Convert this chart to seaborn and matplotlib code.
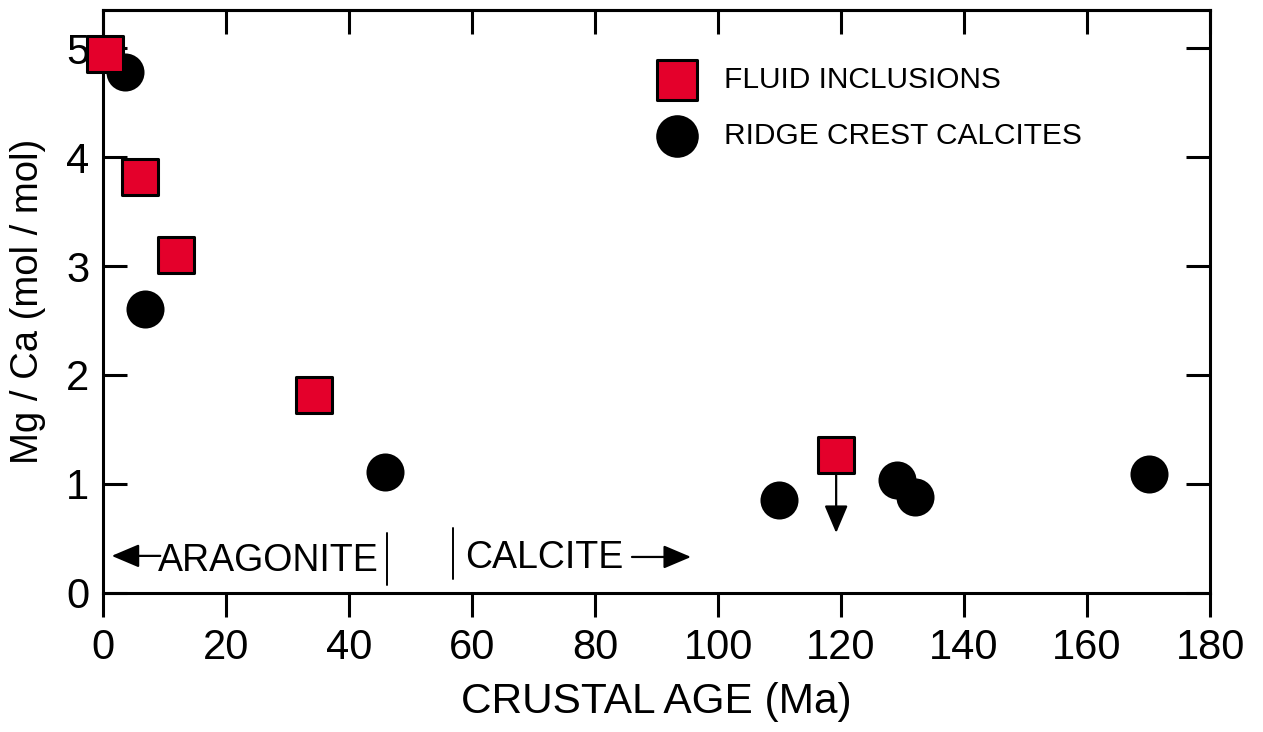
import matplotlib
matplotlib.use("Agg")
import matplotlib.pyplot as plt
import seaborn as sns
import pandas as pd

# Mg/Ca of seawater vs crustal age
fluid_age = [0.3, 6.0, 11.9, 34.3, 119.2]
fluid_mgca = [4.95, 3.82, 3.10, 1.82, 1.27]
calcite_age = [3.6, 6.8, 45.9, 109.9, 129.1, 132.0, 170.1]
calcite_mgca = [4.78, 2.61, 1.11, 0.85, 1.04, 0.88, 1.09]
series_names = ["FLUID INCLUSIONS", "RIDGE CREST CALCITES"]

# the 119 Ma fluid inclusion value is an upper limit
limit_age = 119.2
limit_from = 1.27
limit_to = 0.55

x_ticks = [0, 20, 40, 60, 80, 100, 120, 140, 160, 180]
y_ticks = [0, 1, 2, 3, 4, 5]

fluid = pd.DataFrame({"age": fluid_age, "mgca": fluid_mgca})
calcite = pd.DataFrame({"age": calcite_age, "mgca": calcite_mgca})

sns.set_theme(style="ticks")
plt.rcParams["font.family"] = ["Liberation Sans", "DejaVu Sans"]
plt.rcParams["axes.linewidth"] = 2.2
for key in ("text.color", "axes.labelcolor", "xtick.color", "ytick.color",
            "axes.edgecolor", "xtick.labelcolor", "ytick.labelcolor"):
    plt.rcParams[key] = "black"

RED = "#E4002B"
LW = 2.2
ARROW = "-|>,head_length=0.85,head_width=0.36"

fig = plt.figure(figsize=(12.63, 7.32), dpi=100)
ax = fig.add_axes([0.0816, 0.19, 0.8765, 0.7964])

sns.scatterplot(data=calcite, x="age", y="mgca", ax=ax, marker="o",
                s=750, color="black", edgecolor="black", linewidth=0,
                zorder=3, clip_on=False, label=series_names[1])
sns.scatterplot(data=fluid, x="age", y="mgca", ax=ax, marker="s",
                s=640, color=RED, edgecolor="black", linewidth=LW,
                zorder=4, clip_on=False, label=series_names[0])

ax.annotate("", xy=(limit_age, limit_to), xytext=(limit_age, limit_from),
            arrowprops=dict(arrowstyle=ARROW, color="black", lw=1.6,
                            mutation_scale=20, shrinkA=15, shrinkB=0))

ax.set_xlim(0, 180)
ax.set_ylim(0, 5.35)
ax.set_xticks(x_ticks)
ax.set_yticks(y_ticks)

ax.tick_params(axis="x", direction="out", length=17, width=LW,
               labelsize=30, pad=8, colors="black")
ax.tick_params(axis="y", direction="in", length=17, width=LW,
               labelsize=30, pad=10, left=True, right=True, colors="black")
for s in ax.spines.values():
    s.set_visible(True)
    s.set_linewidth(LW)
    s.set_color("black")

top = ax.secondary_xaxis("top")
top.set_xticks(x_ticks)
top.tick_params(direction="in", length=17, width=LW, labeltop=False)
top.spines["top"].set_linewidth(LW)

ax.set_xlabel("CRUSTAL AGE (Ma)", fontsize=30.5, labelpad=10)
ax.set_ylabel("Mg / Ca (mol / mol)", fontsize=27.5, labelpad=14)

# mineralogy annotations
ax.annotate("", xy=(1.4, 0.34), xytext=(9.3, 0.34),
            arrowprops=dict(arrowstyle=ARROW, color="black", lw=1.6,
                            mutation_scale=20, shrinkA=0, shrinkB=0))
ax.text(9.0, 0.20, "ARAGONITE", fontsize=27, ha="left", va="baseline")
ax.plot([46.2, 46.2], [0.07, 0.55], color="black", lw=1.4)

ax.plot([56.9, 56.9], [0.13, 0.60], color="black", lw=1.4)
ax.text(58.9, 0.23, "CALCITE", fontsize=27, ha="left", va="baseline")
ax.annotate("", xy=(95.6, 0.33), xytext=(86.0, 0.33),
            arrowprops=dict(arrowstyle=ARROW, color="black", lw=1.6,
                            mutation_scale=20, shrinkA=0, shrinkB=0))

handles, labels = ax.get_legend_handles_labels()
order = [labels.index(n) for n in series_names]
ax.legend([handles[i] for i in order], [labels[i] for i in order],
          loc="upper left", bbox_to_anchor=(0.481, 0.925), frameon=False,
          fontsize=21.5, handletextpad=0.55, labelspacing=0.95,
          markerscale=1.12, borderaxespad=0)

fig.savefig("out.png", dpi=100)
